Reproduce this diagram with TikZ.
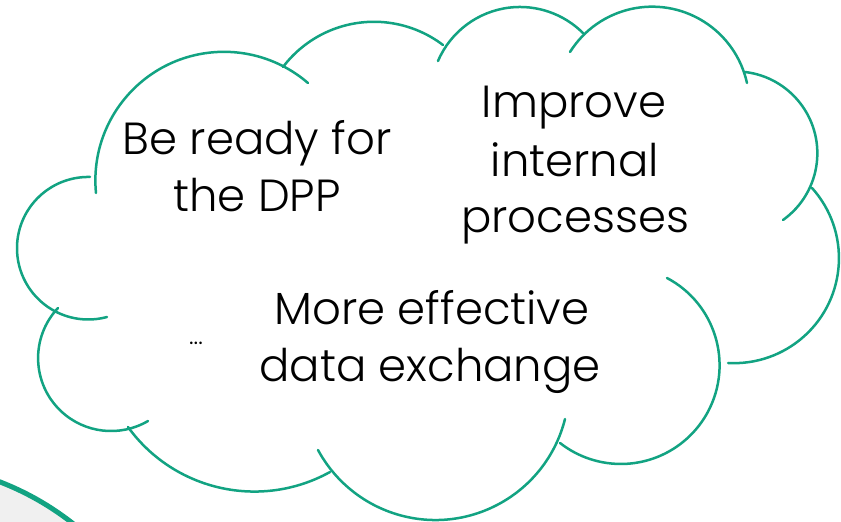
\documentclass[tikz,border=0pt]{standalone}
\usepackage{fontspec}
\setmainfont{Poppins}[UprightFont=* Light]
\definecolor{cloudgreen}{RGB}{18,163,130}
\definecolor{circlegray}{RGB}{240,240,240}
% arc through three points given in image pixels (y downwards)
\newcommand\cloudarc[6]{%
 \pgfmathsetmacro\clAx{#1/100}\pgfmathsetmacro\clAy{(522-#2)/100}%
 \pgfmathsetmacro\clBx{#3/100}\pgfmathsetmacro\clBy{(522-#4)/100}%
 \pgfmathsetmacro\clCx{#5/100}\pgfmathsetmacro\clCy{(522-#6)/100}%
 \pgfmathsetmacro\clD{2*(\clAx*(\clBy-\clCy)+\clBx*(\clCy-\clAy)+\clCx*(\clAy-\clBy))}%
 \pgfmathsetmacro\clSA{\clAx*\clAx+\clAy*\clAy}%
 \pgfmathsetmacro\clSB{\clBx*\clBx+\clBy*\clBy}%
 \pgfmathsetmacro\clSC{\clCx*\clCx+\clCy*\clCy}%
 \pgfmathsetmacro\clUx{(\clSA*(\clBy-\clCy)+\clSB*(\clCy-\clAy)+\clSC*(\clAy-\clBy))/\clD}%
 \pgfmathsetmacro\clUy{(\clSA*(\clCx-\clBx)+\clSB*(\clAx-\clCx)+\clSC*(\clBx-\clAx))/\clD}%
 \pgfmathsetmacro\clR{veclen(\clAx-\clUx,\clAy-\clUy)}%
 \pgfmathsetmacro\claA{atan2(\clAy-\clUy,\clAx-\clUx)}%
 \pgfmathsetmacro\claB{atan2(\clBy-\clUy,\clBx-\clUx)}%
 \pgfmathsetmacro\claC{atan2(\clCy-\clUy,\clCx-\clUx)}%
 \pgfmathsetmacro\cldB{mod(\claB-\claA+720,360)}%
 \pgfmathsetmacro\cldC{mod(\claC-\claA+720,360)}%
 \pgfmathsetmacro\claE{\cldB<\cldC ? \claA+\cldC : \claA-(360-\cldC)}%
 \draw[bump] (\clAx*100pt,\clAy*100pt) arc[start angle=\claA, end angle=\claE, radius=\clR*100pt];%
}
\begin{document}
\begin{tikzpicture}[x=1pt,y=1pt,
  bump/.style={draw=cloudgreen, line width=2.5pt, line cap=round},
  txt/.style={anchor=base, inner sep=0pt, font=\fontsize{45}{50}\selectfont},
  dots/.style={anchor=base, inner sep=0pt, font=\fontsize{25}{28}\selectfont}]
\useasboundingbox (0,0) rectangle (841,522);
\clip (0,0) rectangle (841,522);
\fill[white] (0,0) rectangle (841,522);
% big circle, bottom left
\draw[fill=circlegray, draw=cloudgreen, line width=5pt] (-102,-224) coordinate (cc) circle (283pt);
% cloud bumps
\cloudarc{90}{177}{17}{250}{107}{317}
\cloudarc{96}{193}{217}{52}{308}{83}
\cloudarc{283}{67}{367}{22}{443}{45}
\cloudarc{438}{61}{517}{7}{583}{33}
\cloudarc{570}{52}{660}{7}{747}{83}
\cloudarc{745}{72}{813}{127}{783}{220}
\cloudarc{812}{188}{833}{293}{728}{363}
\cloudarc{667}{278}{703}{420}{560}{443}
\cloudarc{565}{419}{437}{520}{318}{450}
\cloudarc{330}{472}{217}{487}{128}{427}
\cloudarc{58}{308}{47}{393}{148}{421}
% texts
\node[txt] (t1a) at (257,522-155) {Be ready for};
\node[txt] (t1b) at (257,522-212) {the DPP};
\node[txt] (t2a) at (574,522-118) {Improve};
\node[txt] (t2b) at (575,522-177) {internal};
\node[txt] (t2c) at (575,522-233) {processes};
\node[txt] (t3a) at (432,522-325) {More effective};
\node[txt] (t3b) at (430,522-382) {data exchange};
\node[dots] (t4) at (196,522-345) {...};
\end{tikzpicture}
\end{document}
